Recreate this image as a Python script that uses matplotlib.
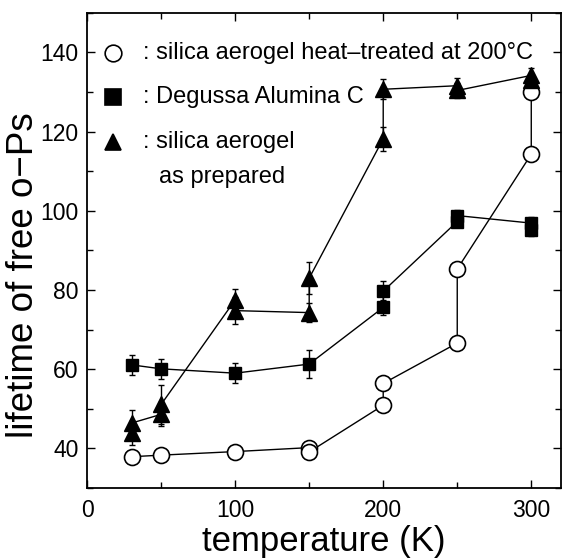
import matplotlib
matplotlib.use("Agg")
import matplotlib.pyplot as plt
from matplotlib.ticker import MultipleLocator

plt.rcParams['font.family'] = ['Liberation Sans', 'DejaVu Sans']

# heat-treated silica aerogel (open circles), in drawing order
circ_T = [30, 50, 100, 150, 150, 200, 200, 250, 250, 300, 300]
circ_tau = [37.9, 38.3, 39.2, 40.2, 39.1, 50.9, 56.4, 66.6, 85.3, 114.3, 129.9]
circ_err = [1.5, 1.5, 1.2, 1.0, 1.0, 1.0, 1.2, 1.0, 1.2, 1.5, 1.5]

# Degussa Alumina C (filled squares)
sq_T = [30, 50, 100, 150, 200, 200, 250, 250, 300, 300]
sq_tau = [61.1, 60.1, 59.0, 61.3, 75.6, 79.7, 97.3, 98.8, 96.9, 95.2]
sq_err = [2.5, 2.5, 2.5, 3.5, 2.0, 2.5, 1.5, 1.5, 1.5, 1.5]

# silica aerogel as prepared (filled triangles)
tri_T = [30, 30, 50, 50, 100, 100, 150, 150, 200, 200, 250, 250, 300, 300]
tri_tau = [43.9, 46.4, 48.6, 51.1, 77.5, 74.8, 74.3, 83.0, 118.2, 130.7,
           131.6, 130.4, 134.2, 133.0]
tri_err = [3.0, 3.2, 3.0, 5.0, 2.8, 3.5, 2.5, 4.0, 3.0, 2.5, 2.0, 2.0, 1.8, 1.5]

fig = plt.figure(figsize=(5.62, 5.59), dpi=100)
ax = fig.add_axes([0.155, 0.127, 0.843, 0.850])

ax.errorbar(circ_T, circ_tau, yerr=circ_err, color='black', lw=1, marker='o',
            ms=11.5, mfc='white', mec='black', mew=1.2, capsize=2.5, elinewidth=1, zorder=3)
ax.errorbar(sq_T, sq_tau, yerr=sq_err, color='black', lw=1, marker='s',
            ms=9, mfc='black', mec='black', capsize=2.5, elinewidth=1, zorder=3)
ax.errorbar(tri_T, tri_tau, yerr=tri_err, color='black', lw=1, marker='^',
            ms=11.5, mfc='black', mec='black', capsize=2.5, elinewidth=1, zorder=3)

ax.set_xlim(0, 320)
ax.set_ylim(30, 150)
ax.xaxis.set_major_locator(MultipleLocator(100))
ax.xaxis.set_minor_locator(MultipleLocator(50))
ax.yaxis.set_major_locator(MultipleLocator(20))
ax.yaxis.set_minor_locator(MultipleLocator(10))
ax.tick_params(which='both', direction='in', top=True, right=True, labelsize=16.5, width=1)
ax.tick_params(which='major', length=6)
ax.tick_params(which='minor', length=4)
ax.tick_params(axis='x', pad=8)
ax.tick_params(axis='y', pad=6)
for s in ax.spines.values():
    s.set_linewidth(1.3)

ax.set_xlabel('temperature (K)', fontsize=25, labelpad=2)
ax.set_ylabel('lifetime of free o\u2212Ps', fontsize=26.5, labelpad=0, y=0.448)

# hand-drawn legend in the upper left
legend_rows = [
    ('o', 'white', 0.916, ': silica aerogel heat\u2013treated at 200\u00b0C'),
    ('s', 'black', 0.823, ': Degussa Alumina C'),
    ('^', 'black', 0.728, ': silica aerogel'),
]
for m, fc, y, txt in legend_rows:
    ax.plot([0.055], [y], marker=m, ms=12 if m != 's' else 11, mfc=fc, mec='black',
            mew=1.2, transform=ax.transAxes, clip_on=False)
    ax.text(0.117, y, txt, transform=ax.transAxes, fontsize=17, va='center', ha='left')
ax.text(0.152, 0.655, 'as prepared', transform=ax.transAxes, fontsize=17, va='center', ha='left')

fig.savefig('out.png', dpi=100)
